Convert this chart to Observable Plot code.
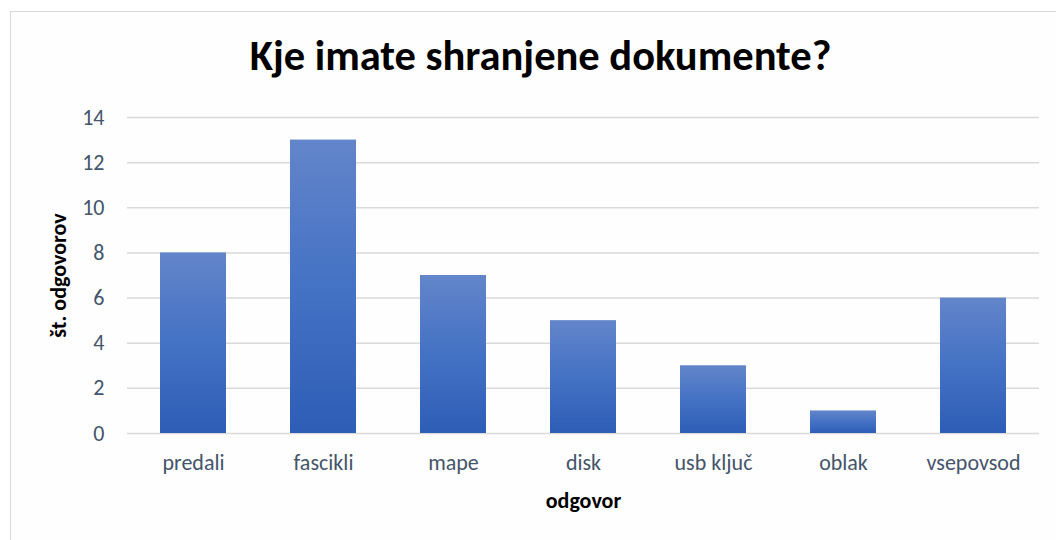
<!DOCTYPE html>
<html>
<head>
<meta charset="utf-8">
<script src="https://cdn.jsdelivr.net/npm/d3@7"></script>
<script src="https://cdn.jsdelivr.net/npm/@observablehq/plot@0.6"></script>
<style>
  body { margin: 0; background: #ffffff; }
  #wrap { position: relative; width: 1056px; height: 540px; overflow: hidden; background: #ffffff; }
  #frame { position: absolute; left: 10px; top: 11px; width: 1060px; height: 540px; border: 1.5px solid #D9D9D9; box-sizing: border-box; background: #FEFEFE; }
  #title { position: absolute; left: 0; top: 35px; width: 1081px; text-align: center; font-family: Calibri, Carlito, Lato, sans-serif; font-weight: bold; font-size: 42.5px; line-height: 42px; color: #000000; }
  #chart { position: absolute; left: 0; top: 0; }
</style>
</head>
<body>
<div id="wrap">
  <div id="frame"></div>
  <div id="title">Kje imate shranjene dokumente?</div>
  <div id="chart"></div>
</div>
<script>
const categories = ["predali", "fascikli", "mape", "disk", "usb ključ", "oblak", "vsepovsod"];
const counts = [8, 13, 7, 5, 3, 1, 6];
const yTicks = [0, 2, 4, 6, 8, 10, 12, 14];
const xTitle = "odgovor";
const yTitle = "št. odgovorov";

const data = categories.map((c, i) => ({ category: c, value: counts[i] }));
const font = "Calibri, Carlito, Lato, sans-serif";

const plot = Plot.plot({
  width: 1056,
  height: 540,
  marginTop: 117,
  marginBottom: 107,
  marginLeft: 127,
  marginRight: 17,
  style: { background: "transparent", fontFamily: font, fontSize: "22px", color: "#44546A" },
  x: { domain: categories, paddingInner: 0.49, paddingOuter: 0.245, label: null },
  y: { domain: [0, 14], label: null },
  marks: [
    Plot.ruleY(yTicks, { stroke: "#D9D9D9", strokeWidth: 1.5 }),
    Plot.barY(data, { x: "category", y: "value", fill: "url(#barGrad)" }),
    Plot.axisY({ ticks: yTicks, tickSize: 0, tickPadding: 23, fill: "#44546A", fontSize: 22, label: null }),
    Plot.axisX({ tickSize: 0, tickPadding: 21, fill: "#44546A", fontSize: 22, label: null }),
    Plot.text([xTitle], { frameAnchor: "bottom", dy: 74, fontWeight: "bold", fontSize: 22, fill: "#000000" }),
    Plot.text([yTitle], { frameAnchor: "left", textAnchor: "middle", dx: -69, rotate: -90, fontWeight: "bold", fontSize: 22, fill: "#000000" })
  ]
});

const ns = "http://www.w3.org/2000/svg";
const defs = document.createElementNS(ns, "defs");
defs.innerHTML = `<linearGradient id="barGrad" x1="0" y1="0" x2="0" y2="1">
  <stop offset="0%" stop-color="#6385CA"/>
  <stop offset="50%" stop-color="#4472C4"/>
  <stop offset="100%" stop-color="#2E5DB6"/>
</linearGradient>`;
plot.insertBefore(defs, plot.firstChild);
document.getElementById("chart").appendChild(plot);
</script>
</body>
</html>
